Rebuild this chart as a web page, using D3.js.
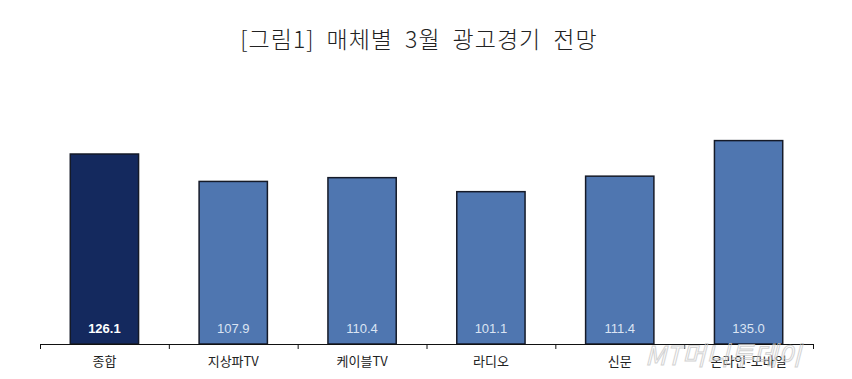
<!DOCTYPE html>
<html><head><meta charset="utf-8">
<script src="https://cdn.jsdelivr.net/npm/d3@7"></script>
<style>body{margin:0;background:#fff}svg{display:block}</style>
</head><body>
<svg id="c" width="852" height="379"></svg>
<script>
const title = "[그림1] 매체별 3월 광고경기 전망";
const categories = ["종합","지상파TV","케이블TV","라디오","신문","온라인-모바일"];
const values = [126.1,107.9,110.4,101.1,111.4,135.0];
const labels = ["126.1","107.9","110.4","101.1","111.4","135.0"];
const watermark = "MT머니투데이";

const svg = d3.select("#c");
const x = d3.scaleBand().domain(categories).range([40,813]).paddingInner(0.47).paddingOuter(0.235);
const y = d3.scaleLinear().domain([0,150]).range([344,118]);

svg.append("text").attr("x",419).attr("y",48).attr("text-anchor","middle")
  .attr("font-family","'Noto Sans CJK KR','DejaVu Serif',serif").attr("font-size",23)
  .attr("font-weight",300).attr("letter-spacing",1).attr("word-spacing",6)
  .attr("fill","#222").text(title);

svg.selectAll("rect.bar").data(values).join("rect").attr("class","bar")
  .attr("x",(d,i)=>x(categories[i])).attr("width",x.bandwidth())
  .attr("y",d=>y(d)).attr("height",d=>y(0)-y(d))
  .attr("fill",(d,i)=>i===0?"#14295e":"#4f76b0")
  .attr("stroke","#151a28").attr("stroke-width",1.5);

svg.selectAll("text.val").data(labels).join("text").attr("class","val")
  .attr("x",(d,i)=>x(categories[i])+x.bandwidth()/2).attr("y",333)
  .attr("text-anchor","middle").attr("font-family","Arial,'Liberation Sans',sans-serif")
  .attr("font-size",13).attr("font-weight",(d,i)=>i===0?"bold":"normal")
  .attr("fill",(d,i)=>i===0?"#ffffff":"#dbe4f3").text(d=>d);

// axis
const step = x.step();
const ticks = d3.range(categories.length+1).map(i=>x(categories[0]) - x.paddingOuter()*step + i*step);
svg.append("line").attr("x1",40).attr("x2",813).attr("y1",344.5).attr("y2",344.5)
  .attr("stroke","#111").attr("stroke-width",1.2);
svg.selectAll("line.tk").data(ticks).join("line").attr("class","tk")
  .attr("x1",d=>d+0.5).attr("x2",d=>d+0.5).attr("y1",344).attr("y2",349)
  .attr("stroke","#111").attr("stroke-width",1);

svg.selectAll("text.cat").data(categories).join("text").attr("class","cat")
  .attr("x",d=>x(d)+x.bandwidth()/2).attr("y",366)
  .attr("text-anchor","middle").attr("font-family","'Noto Sans CJK KR',sans-serif")
  .attr("font-size",13).attr("fill","#222").text(d=>d);

svg.append("text").attr("x",645).attr("y",365)
  .attr("font-family","'Noto Sans CJK KR',sans-serif").attr("font-size",26)
  .attr("fill","none").attr("stroke","#c8c8c8").attr("stroke-width",1)
  .attr("font-style","italic").attr("opacity",0.8).text(watermark);
</script>
</body></html>
